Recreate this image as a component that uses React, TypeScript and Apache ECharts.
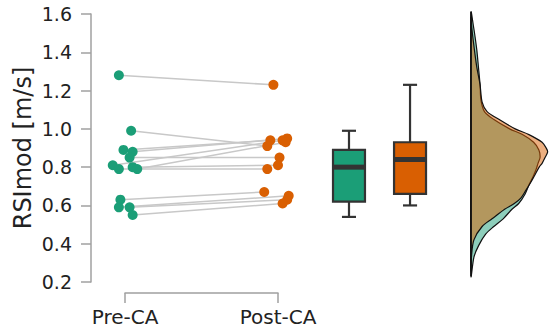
import React, { useEffect, useRef } from 'react';
import * as echarts from 'echarts';

const groups = ['Pre-CA', 'Post-CA'];
const preValues = [1.28, 0.99, 0.89, 0.88, 0.85, 0.81, 0.8, 0.79, 0.79, 0.63, 0.59, 0.59, 0.55];
const postValues = [1.23, 0.91, 0.94, 0.95, 0.85, 0.94, 0.81, 0.79, 0.93, 0.67, 0.65, 0.63, 0.61];
const preJitter = [-0.04, 0.04, -0.01, 0.05, 0.03, -0.08, 0.05, -0.04, 0.08, -0.03, -0.04, 0.03, 0.05];
const postJitter = [-0.03, -0.07, -0.05, 0.06, 0.01, 0.03, 0.0, -0.07, 0.05, -0.09, 0.07, 0.06, 0.03];
// [min, Q1, median, Q3, max]
const preBox = [0.54, 0.62, 0.8, 0.89, 0.99];
const postBox = [0.6, 0.66, 0.84, 0.93, 1.23];
const preDensityY = [1.61, 1.54, 1.48, 1.41, 1.33, 1.23, 1.15, 1.09, 1.05, 1.0, 0.97, 0.93, 0.89, 0.85, 0.82, 0.79, 0.75, 0.71, 0.66, 0.61, 0.58, 0.53, 0.49, 0.45, 0.39, 0.33, 0.23];
const preDensity = [0, 0.08, 0.14, 0.2, 0.25, 0.31, 0.34, 0.46, 0.77, 1.32, 1.76, 2.14, 2.32, 2.36, 2.29, 2.23, 2.12, 1.99, 1.85, 1.63, 1.4, 1.1, 0.78, 0.5, 0.26, 0.1, 0];
const postDensityY = [1.58, 1.54, 1.47, 1.33, 1.23, 1.14, 1.09, 1.05, 1.0, 0.97, 0.93, 0.9, 0.88, 0.85, 0.82, 0.8, 0.75, 0.72, 0.68, 0.64, 0.61, 0.58, 0.53, 0.49, 0.42, 0.34, 0.26];
const postDensity = [0, 0.02, 0.07, 0.19, 0.31, 0.38, 0.55, 0.95, 1.51, 1.98, 2.43, 2.57, 2.62, 2.53, 2.43, 2.33, 2.15, 2.04, 1.88, 1.71, 1.48, 1.15, 0.72, 0.38, 0.1, 0.02, 0];

const COLORS = ['#1b9e77', '#d95f02'];
const FILLS = ['rgba(27,158,119,0.5)', 'rgba(217,95,2,0.5)'];
const BOX_X = [1.464, 1.863];
const BOX_W = 0.209;
const CAP_W = 0.092;
const FONT = 'DejaVu Sans';
const AXIS_GREY = '#a0a0a0';

export default function App() {
  const ref = useRef<HTMLDivElement>(null);
  useEffect(() => {
    const chart = echarts.init(ref.current!, null, { renderer: 'svg' });

    const pairData = preValues.map((v, i) => [0 + preJitter[i], v, 1 + postJitter[i], postValues[i]]);
    const boxData = [preBox, postBox].map((b, i) => [BOX_X[i], ...b]);

    const option: any = {
      animation: false,
      backgroundColor: '#fff',
      grid: [
        { left: 125, top: 14, width: 153, height: 268 },
        { left: 471, top: 14, width: 79, height: 268 },
      ],
      xAxis: [
        {
          type: 'value', gridIndex: 0, min: 0, max: 1, interval: 1, offset: 11,
          axisLine: { show: true, onZero: false, lineStyle: { color: AXIS_GREY, width: 1.5 } },
          axisTick: { show: true, length: 10, lineStyle: { color: AXIS_GREY, width: 1.5 } },
          axisLabel: { fontSize: 20, color: '#222', margin: 14, fontFamily: FONT, formatter: (v: number) => groups[Math.round(v)] },
          splitLine: { show: false },
        },
        { type: 'value', gridIndex: 1, min: 0, max: 2.7, show: false },
      ],
      yAxis: [
        {
          type: 'value', gridIndex: 0, min: 0.2, max: 1.6, interval: 0.2, offset: 34,
          axisLine: { show: true, onZero: false, lineStyle: { color: AXIS_GREY, width: 1.5 } },
          axisTick: { show: true, length: 10, lineStyle: { color: AXIS_GREY, width: 1.5 } },
          axisLabel: { fontSize: 19, color: '#222', margin: 19, fontFamily: FONT, formatter: (v: number) => v.toFixed(1) },
          splitLine: { show: false },
          name: 'RSImod [m/s]', nameLocation: 'middle', nameGap: 56,
          nameTextStyle: { fontSize: 24, color: '#222', fontFamily: FONT },
        },
        { type: 'value', gridIndex: 1, min: 0.2, max: 1.6, show: false },
      ],
      series: [
        {
          type: 'custom', xAxisIndex: 0, yAxisIndex: 0, data: pairData, clip: false, z: 1,
          renderItem: (params: any, api: any) => {
            const a = api.coord([api.value(0), api.value(1)]);
            const b = api.coord([api.value(2), api.value(3)]);
            return { type: 'line', shape: { x1: a[0], y1: a[1], x2: b[0], y2: b[1] }, style: { stroke: '#c8c8c8', lineWidth: 1.5 } };
          },
        },
        {
          type: 'scatter', xAxisIndex: 0, yAxisIndex: 0, clip: false, z: 3, symbolSize: 10,
          itemStyle: { color: COLORS[0], opacity: 1 },
          data: preValues.map((v, i) => [0 + preJitter[i], v]),
        },
        {
          type: 'scatter', xAxisIndex: 0, yAxisIndex: 0, clip: false, z: 3, symbolSize: 10,
          itemStyle: { color: COLORS[1], opacity: 1 },
          data: postValues.map((v, i) => [1 + postJitter[i], v]),
        },
        {
          type: 'custom', xAxisIndex: 0, yAxisIndex: 0, data: boxData, clip: false, z: 4,
          renderItem: (params: any, api: any) => {
            const x = api.value(0);
            const mn = api.coord([x, api.value(1)]);
            const q1 = api.coord([x, api.value(2)]);
            const md = api.coord([x, api.value(3)]);
            const q3 = api.coord([x, api.value(4)]);
            const mx = api.coord([x, api.value(5)]);
            const w = api.size([BOX_W, 0])[0];
            const cw = api.size([CAP_W, 0])[0];
            const cx = mn[0];
            const stroke = '#333';
            return {
              type: 'group',
              children: [
                { type: 'line', shape: { x1: cx, y1: mx[1], x2: cx, y2: q3[1] }, style: { stroke, lineWidth: 2.2 } },
                { type: 'line', shape: { x1: cx, y1: q1[1], x2: cx, y2: mn[1] }, style: { stroke, lineWidth: 2.2 } },
                { type: 'line', shape: { x1: cx - cw / 2, y1: mx[1], x2: cx + cw / 2, y2: mx[1] }, style: { stroke, lineWidth: 2.2 } },
                { type: 'line', shape: { x1: cx - cw / 2, y1: mn[1], x2: cx + cw / 2, y2: mn[1] }, style: { stroke, lineWidth: 2.2 } },
                { type: 'rect', shape: { x: cx - w / 2, y: q3[1], width: w, height: q1[1] - q3[1] }, style: { fill: COLORS[params.dataIndex], stroke, lineWidth: 2.2 } },
                { type: 'line', shape: { x1: cx - w / 2, y1: md[1], x2: cx + w / 2, y2: md[1] }, style: { stroke, lineWidth: 5 } },
              ],
            };
          },
        },
        {
          type: 'custom', xAxisIndex: 1, yAxisIndex: 1, data: [[0, 0.9]], clip: false, z: 2,
          renderItem: (params: any, api: any) => {
            const curves = [
              { ys: preDensityY, ds: preDensity },
              { ys: postDensityY, ds: postDensity },
            ];
            const children: any[] = curves.map((c, k) => {
              const pts = c.ys.map((y, i) => api.coord([c.ds[i], y]));
              const top = c.ys[0];
              const bot = c.ys[c.ys.length - 1];
              pts.push(api.coord([0, (top + bot) / 2]));
              return {
                type: 'polygon',
                shape: { points: pts, smooth: 0.3 },
                style: { fill: FILLS[k], stroke: '#111', lineWidth: 1.2 },
              };
            });
            const allY = preDensityY.concat(postDensityY);
            const yTop = Math.max(...allY);
            const yBot = Math.min(...allY);
            const a = api.coord([0, yTop]);
            const b = api.coord([0, yBot]);
            children.push({ type: 'line', shape: { x1: a[0], y1: a[1], x2: b[0], y2: b[1] }, style: { stroke: '#111', lineWidth: 1.6 } });
            return { type: 'group', children };
          },
        },
      ],
    };
    chart.setOption(option);
    return () => chart.dispose();
  }, []);
  return <div ref={ref} style={{ position: 'fixed', left: 0, top: 0, width: 550, height: 331 }} />;
}
